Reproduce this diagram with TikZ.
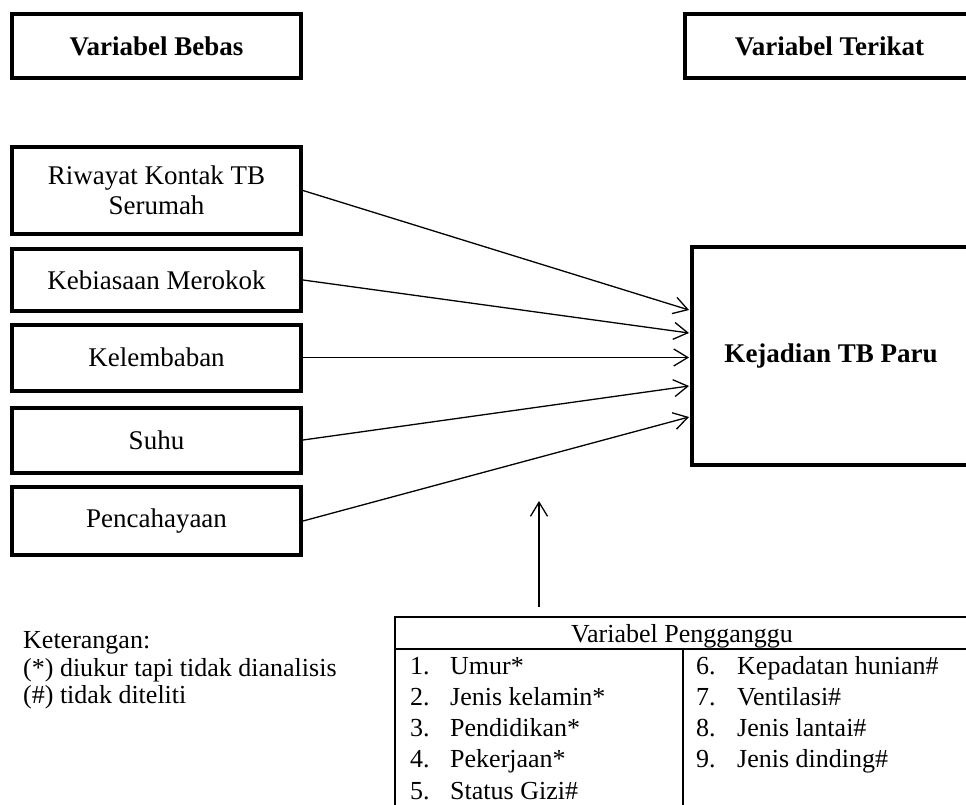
\documentclass[tikz,border=0pt]{standalone}
\usepackage{fontspec}
\setmainfont{Liberation Serif}
\usetikzlibrary{arrows.meta}
\begin{document}
\begin{tikzpicture}[x=1pt,y=-1pt,
  box/.style={draw, line width=4pt, inner sep=0pt, align=center, font=\fontsize{27}{30}\selectfont},
  titlebox/.style={box, font=\fontsize{27}{30}\selectfont\bfseries},
  conn/.style={line width=1.3pt, -{Straight Barb[length=14pt,width=17pt,line width=1.3pt]}},
  cell/.style={anchor=base west, inner sep=0pt, font=\fontsize{26}{30}\selectfont},
  gridline/.style={line width=1.5pt}]
\useasboundingbox (0,0) rectangle (966,805);
% titles
\node[titlebox, minimum width=289pt, minimum height=64pt] (bebas) at (156.5,46) {Variabel Bebas};
\node[titlebox, minimum width=289pt, minimum height=64pt] (terikat) at (829.5,46) {Variabel Terikat};
% independent variables
\node[box, minimum width=289pt, minimum height=87pt] (riw) at (156.5,190.5) {Riwayat Kontak TB\\Serumah};
\node[box, minimum width=289pt, minimum height=62pt] (keb) at (156.5,280) {Kebiasaan Merokok};
\node[box, minimum width=289pt, minimum height=66pt] (kel) at (156.5,357.5) {Kelembaban};
\node[box, minimum width=289pt, minimum height=65pt] (suhu) at (156.5,440) {Suhu};
\node[box, minimum width=289pt, minimum height=68pt] (pen) at (156.5,521) {Pencahayaan};
% dependent variable
\node[titlebox, minimum width=278pt, minimum height=218pt] (kej) at (831,356) {Kejadian TB Paru};
% arrow targets
\coordinate (e1) at (689,310);
\coordinate (e2) at (689,333);
\coordinate (e3) at (689,357.5);
\coordinate (e4) at (689,386);
\coordinate (e5) at (689,417);
\draw[conn] (riw.east) -- (e1);
\draw[conn] (keb.east) -- (e2);
\draw[conn] (kel.east) -- (e3);
\draw[conn] (suhu.east) -- (e4);
\draw[conn] (pen.east) -- (e5);
% confounder arrow
\coordinate (vs) at (539,607);
\coordinate (ve) at (539,501);
\draw[conn] (vs) -- (ve);
% table
\draw[gridline] (395,617) rectangle (990,830);
\draw[gridline] (395,649) -- (990,649);
\draw[gridline] (683,649) -- (683,830);
\node[anchor=base, inner sep=0pt, font=\fontsize{26}{30}\selectfont] (hdr) at (682,642) {Variabel Pengganggu};
\node[cell] (n1) at (410,674) {1.}; \node[cell] (t1) at (450,674) {Umur*};
\node[cell] (n2) at (410,705) {2.}; \node[cell] (t2) at (450,705) {Jenis kelamin*};
\node[cell] (n3) at (410,736) {3.}; \node[cell] (t3) at (450,736) {Pendidikan*};
\node[cell] (n4) at (410,767) {4.}; \node[cell] (t4) at (450,767) {Pekerjaan*};
\node[cell] (n5) at (410,799) {5.}; \node[cell] (t5) at (450,799) {Status Gizi\#};
\node[cell] (n6) at (696,674) {6.}; \node[cell] (t6) at (737,674) {Kepadatan hunian\#};
\node[cell] (n7) at (696,705) {7.}; \node[cell] (t7) at (737,705) {Ventilasi\#};
\node[cell] (n8) at (696,736) {8.}; \node[cell] (t8) at (737,736) {Jenis lantai\#};
\node[cell] (n9) at (696,767) {9.}; \node[cell] (t9) at (737,767) {Jenis dinding\#};
% legend
\node[cell] (k0) at (23,648) {Keterangan:};
\node[cell] (k1) at (23,676) {(*) diukur tapi tidak dianalisis};
\node[cell] (k2) at (23,703) {(\#) tidak diteliti};
\end{tikzpicture}
\end{document}
